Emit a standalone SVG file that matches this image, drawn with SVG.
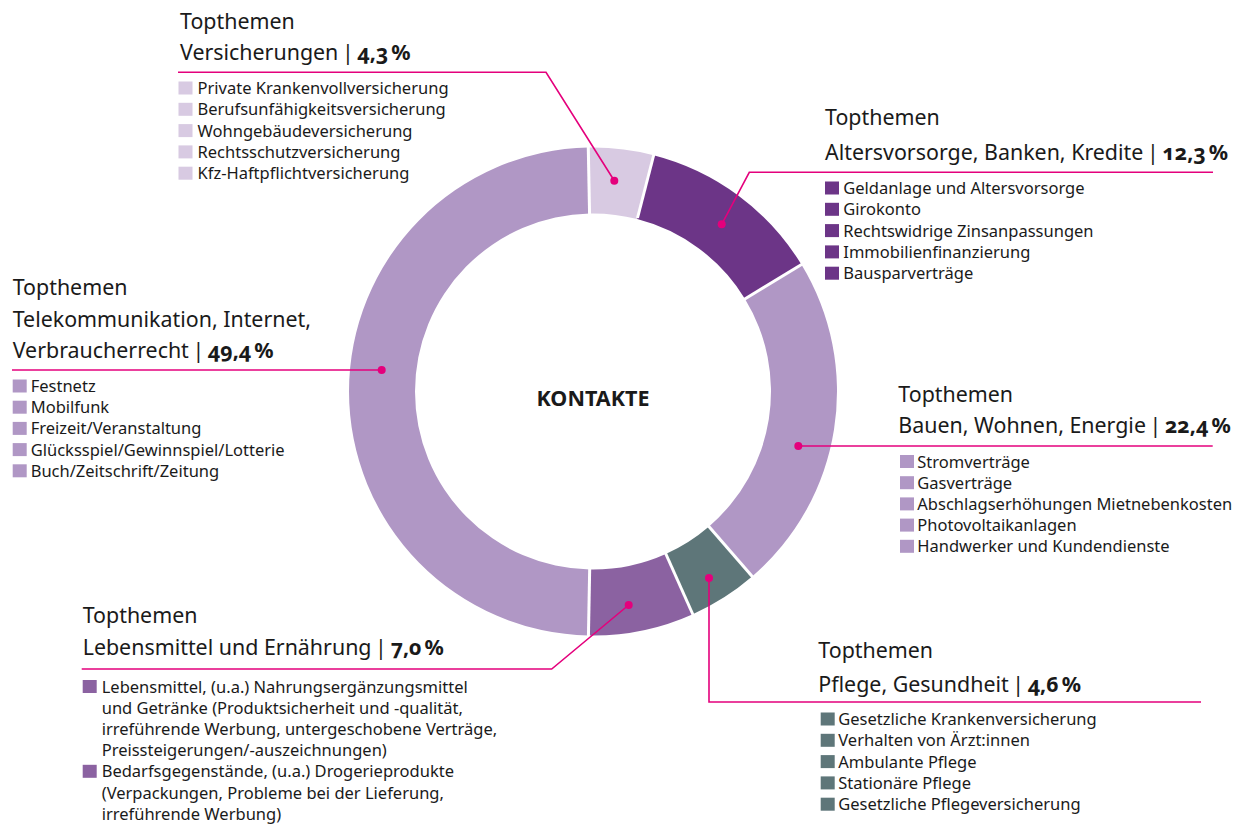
<svg xmlns="http://www.w3.org/2000/svg" width="1251" height="826" viewBox="0 0 1251 826">
<style>
.h{font-family:"Noto Sans","Open Sans",sans-serif;font-size:21.4px;fill:#1a1a1a}
.b{font-weight:700;font-variant-numeric:oldstyle-nums;word-spacing:-2.5px}
.p{word-spacing:-2px}
.it{font-family:"Noto Sans","Open Sans",sans-serif;font-size:16.5px;fill:#1a1a1a}
.ln{fill:none;stroke:#E4007C;stroke-width:1.6}
.dot{fill:#E4007C}
.sep{stroke:#fff;stroke-width:3}
.c1{fill:#D8CAE2}.c2{fill:#6C3587}.c3{fill:#B097C5}.c4{fill:#5E7679}.c5{fill:#8B62A1}
</style>
<rect width="1251" height="826" fill="#fff"/>
<g id="donut">
<path class="c1" d="M588.316,147.545 A244,244 0 0 1 653.597,155.145 L637.206,219.077 A178,178 0 0 0 589.583,213.533 Z"/>
<path class="c2" d="M653.597,155.145 A244,244 0 0 1 801.399,264.592 L745.029,298.919 A178,178 0 0 0 637.206,219.077 Z"/>
<path class="c3" d="M801.399,264.592 A244,244 0 0 1 752.112,576.485 L709.074,526.448 A178,178 0 0 0 745.029,298.919 Z"/>
<path class="c4" d="M752.112,576.485 A244,244 0 0 1 692.788,614.162 L665.796,553.934 A178,178 0 0 0 709.074,526.448 Z"/>
<path class="c5" d="M692.788,614.162 A244,244 0 0 1 588.486,635.458 L589.707,569.470 A178,178 0 0 0 665.796,553.934 Z"/>
<path class="c3" d="M588.486,635.458 A244,244 0 0 1 588.316,147.545 L589.583,213.533 A178,178 0 0 0 589.707,569.470 Z"/>
<line class="sep" x1="589.6" y1="215" x2="588.2" y2="144"/>
<line class="sep" x1="637.5" y1="218" x2="654.5" y2="152"/>
<line class="sep" x1="744" y1="299.5" x2="804" y2="263"/>
<line class="sep" x1="708" y1="525.5" x2="754" y2="578.5"/>
<line class="sep" x1="665" y1="552" x2="694" y2="617"/>
<line class="sep" x1="589.7" y1="568" x2="588.4" y2="638"/>
<text x="593" y="406" class="h b" text-anchor="middle" textLength="113" lengthAdjust="spacingAndGlyphs" style="font-size:22px">KONTAKTE</text>
</g>
<g id="connectors">
<polyline class="ln" points="178,72.3 546,72.3 614.3,180.7"/>
<polyline class="ln" points="721.7,224.3 749.3,172.3 1213,172.3"/>
<polyline class="ln" points="12,370 381.7,370"/>
<polyline class="ln" points="798.3,446 1212.7,446"/>
<polyline class="ln" points="709,578 709,702 1201,702"/>
<polyline class="ln" points="628.7,605 551.7,669 81.7,669"/>
<circle class="dot" cx="614.3" cy="180.7" r="4"/>
<circle class="dot" cx="721.7" cy="224.3" r="4"/>
<circle class="dot" cx="381.7" cy="370" r="4"/>
<circle class="dot" cx="798.3" cy="446" r="4"/>
<circle class="dot" cx="709" cy="578" r="4"/>
<circle class="dot" cx="628.7" cy="605" r="4"/>
</g>
<g id="versicherungen">
<text class="h" x="180" y="29">Topthemen</text>
<text class="h" x="180" y="60">Versicherungen<tspan class="p"> | </tspan><tspan class="b">4,3 %</tspan></text>
<rect class="c1" x="178.5" y="81.5" width="14" height="13"/>
<rect class="c1" x="178.5" y="102.8" width="14" height="13"/>
<rect class="c1" x="178.5" y="124.1" width="14" height="13"/>
<rect class="c1" x="178.5" y="145.4" width="14" height="13"/>
<rect class="c1" x="178.5" y="166.7" width="14" height="13"/>
<text class="it" x="197.5" y="94">Private Krankenvollversicherung</text>
<text class="it" x="197.5" y="115.3">Berufsunfähigkeitsversicherung</text>
<text class="it" x="197.5" y="136.6">Wohngebäudeversicherung</text>
<text class="it" x="197.5" y="157.9">Rechtsschutzversicherung</text>
<text class="it" x="197.5" y="179.2">Kfz-Haftpflichtversicherung</text>
</g>
<g id="altersvorsorge">
<text class="h" x="825" y="125">Topthemen</text>
<text class="h" x="825" y="159.5">Altersvorsorge, Banken, Kredite<tspan class="p"> | </tspan><tspan class="b">12,3 %</tspan></text>
<rect class="c2" x="825" y="181.5" width="14" height="13"/>
<rect class="c2" x="825" y="202.8" width="14" height="13"/>
<rect class="c2" x="825" y="224.1" width="14" height="13"/>
<rect class="c2" x="825" y="245.4" width="14" height="13"/>
<rect class="c2" x="825" y="266.7" width="14" height="13"/>
<text class="it" x="843.3" y="194">Geldanlage und Altersvorsorge</text>
<text class="it" x="843.3" y="215.3">Girokonto</text>
<text class="it" x="843.3" y="236.6">Rechtswidrige Zinsanpassungen</text>
<text class="it" x="843.3" y="257.9">Immobilienfinanzierung</text>
<text class="it" x="843.3" y="279.2">Bausparverträge</text>
</g>
<g id="telekommunikation">
<text class="h" x="12.7" y="295">Topthemen</text>
<text class="h" x="12.7" y="326.5">Telekommunikation, Internet,</text>
<text class="h" x="12.7" y="357.5">Verbraucherrecht<tspan class="p"> | </tspan><tspan class="b">49,4 %</tspan></text>
<rect class="c3" x="12.7" y="379.5" width="14" height="13"/>
<rect class="c3" x="12.7" y="400.7" width="14" height="13"/>
<rect class="c3" x="12.7" y="421.9" width="14" height="13"/>
<rect class="c3" x="12.7" y="443.1" width="14" height="13"/>
<rect class="c3" x="12.7" y="464.3" width="14" height="13"/>
<text class="it" x="30.7" y="392">Festnetz</text>
<text class="it" x="30.7" y="413.2">Mobilfunk</text>
<text class="it" x="30.7" y="434.4">Freizeit/Veranstaltung</text>
<text class="it" x="30.7" y="455.6">Glücksspiel/Gewinnspiel/Lotterie</text>
<text class="it" x="30.7" y="476.8">Buch/Zeitschrift/Zeitung</text>
</g>
<g id="bauen">
<text class="h" x="898.3" y="401.5">Topthemen</text>
<text class="h" x="898.3" y="433.3">Bauen, Wohnen, Energie<tspan class="p"> | </tspan><tspan class="b">22,4 %</tspan></text>
<rect class="c3" x="900" y="455" width="14" height="13"/>
<rect class="c3" x="900" y="476.2" width="14" height="13"/>
<rect class="c3" x="900" y="497.4" width="14" height="13"/>
<rect class="c3" x="900" y="518.6" width="14" height="13"/>
<rect class="c3" x="900" y="539.8" width="14" height="13"/>
<text class="it" x="917.3" y="467.5">Stromverträge</text>
<text class="it" x="917.3" y="488.7">Gasverträge</text>
<text class="it" x="917.3" y="509.9">Abschlagserhöhungen Mietnebenkosten</text>
<text class="it" x="917.3" y="531.1">Photovoltaikanlagen</text>
<text class="it" x="917.3" y="552.3">Handwerker und Kundendienste</text>
</g>
<g id="pflege">
<text class="h" x="818.3" y="658.3">Topthemen</text>
<text class="h" x="818.3" y="691.5">Pflege, Gesundheit<tspan class="p"> | </tspan><tspan class="b">4,6 %</tspan></text>
<rect class="c4" x="820.7" y="712.5" width="14" height="13"/>
<rect class="c4" x="820.7" y="733.8" width="14" height="13"/>
<rect class="c4" x="820.7" y="755.1" width="14" height="13"/>
<rect class="c4" x="820.7" y="776.4" width="14" height="13"/>
<rect class="c4" x="820.7" y="797.7" width="14" height="13"/>
<text class="it" x="838.3" y="725">Gesetzliche Krankenversicherung</text>
<text class="it" x="838.3" y="746.3">Verhalten von Ärzt:innen</text>
<text class="it" x="838.3" y="767.6">Ambulante Pflege</text>
<text class="it" x="838.3" y="788.9">Stationäre Pflege</text>
<text class="it" x="838.3" y="810.2">Gesetzliche Pflegeversicherung</text>
</g>
<g id="lebensmittel">
<text class="h" x="82.7" y="623.3">Topthemen</text>
<text class="h" x="82.7" y="655">Lebensmittel und Ernährung<tspan class="p"> | </tspan><tspan class="b">7,0 %</tspan></text>
<rect class="c5" x="82.7" y="680" width="14" height="13"/>
<rect class="c5" x="82.7" y="764.8" width="14" height="13"/>
<text class="it" x="101.7" y="692.5">Lebensmittel, (u.a.) Nahrungsergänzungsmittel</text>
<text class="it" x="101.7" y="713.7">und Getränke (Produktsicherheit und -qualität,</text>
<text class="it" x="101.7" y="734.9">irreführende Werbung, untergeschobene Verträge,</text>
<text class="it" x="101.7" y="756.1">Preissteigerungen/-auszeichnungen)</text>
<text class="it" x="101.7" y="777.3">Bedarfsgegenstände, (u.a.) Drogerieprodukte</text>
<text class="it" x="101.7" y="798.5">(Verpackungen, Probleme bei der Lieferung,</text>
<text class="it" x="101.7" y="819.7">irreführende Werbung)</text>
</g>
</svg>
